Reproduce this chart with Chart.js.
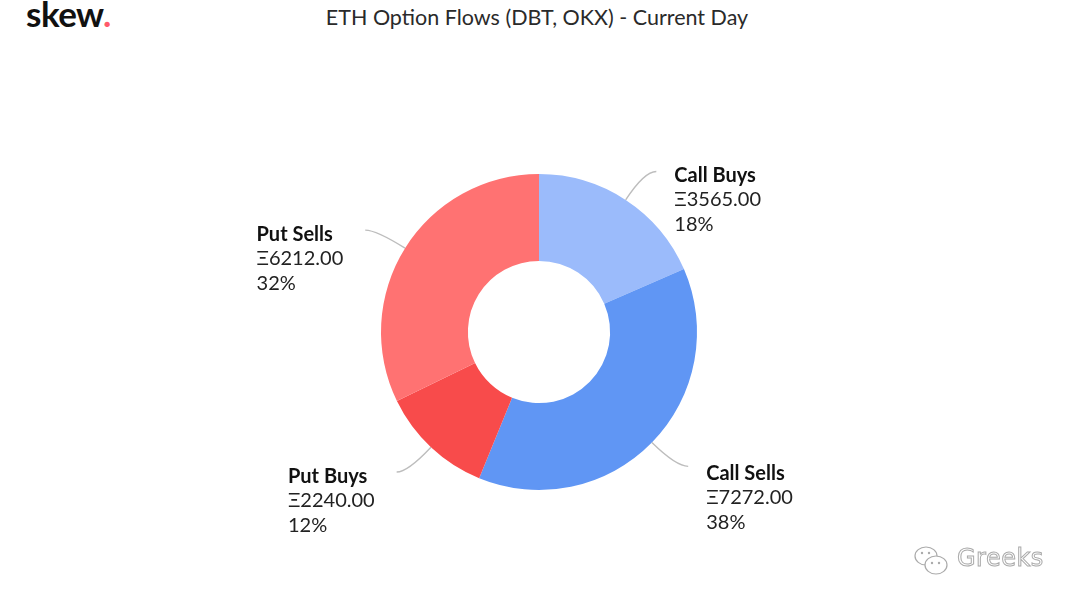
<!DOCTYPE html>
<html>
<head>
<meta charset="utf-8">
<script src="https://cdn.jsdelivr.net/npm/chart.js@4"></script>
<style>
html,body{margin:0;padding:0;background:#fff;}
#wrap{position:relative;width:1080px;height:603px;overflow:hidden;font-family:Lato,"Noto Sans",sans-serif;}
#logo{position:absolute;left:26px;top:-8px;font:bold 35px Lato,sans-serif;color:#111;letter-spacing:-0.5px;}
#logo span{color:#ff5a6a;}
#title{position:absolute;left:0;width:1074px;top:4px;text-align:center;font:21.5px Lato,sans-serif;color:#2a2a2a;}
#wm{position:absolute;left:912px;top:544px;font:24px "DejaVu Sans",sans-serif;color:#fff;-webkit-text-stroke:1px #aaa;letter-spacing:0.5px;}
#wm svg{position:absolute;left:0;top:0;}
#wm b{font-weight:normal;position:absolute;left:45px;top:0;}
canvas{position:absolute;left:0;top:0;}
</style>
</head>
<body>
<div id="wrap">
  <div id="logo">skew<span>.</span></div>
  <div id="title">ETH Option Flows (DBT, OKX) - Current Day</div>
  <canvas id="flows" width="1080" height="603"></canvas>
  <div id="wm"><svg width="38" height="34" viewBox="0 0 38 34"><ellipse cx="14" cy="12" rx="11" ry="9" fill="#fff" stroke="#aaa" stroke-width="1.2"/><ellipse cx="24" cy="21" rx="11" ry="9" fill="#fff" stroke="#aaa" stroke-width="1.2"/><circle cx="10" cy="9" r="1.2" fill="#aaa"/><circle cx="17" cy="9" r="1.2" fill="#aaa"/><circle cx="20" cy="19" r="1.2" fill="#aaa"/><circle cx="27" cy="19" r="1.2" fill="#aaa"/></svg><b>Greeks</b></div>
</div>
<script>
const labels=["Call Buys","Call Sells","Put Buys","Put Sells"];
const flows=[3565,7272,2240,6212];
const colors=["#9bbbfb","#6096f4","#f84b4b","#ff7272"];
const total=flows.reduce((a,b)=>a+b,0);

const leaders={id:"leaders",afterDatasetsDraw(chart){
  const ctx=chart.ctx;
  chart.getDatasetMeta(0).data.forEach((arc,i)=>{
    const {x,y,startAngle,endAngle,outerRadius}=arc.getProps(["x","y","startAngle","endAngle","outerRadius"],true);
    const a=(startAngle+endAngle)/2,c=Math.cos(a),s=Math.sin(a),right=c>=0;
    const x0=x+c*outerRadius,y0=y+s*outerRadius;
    const r1=outerRadius+34,x1=x+c*r1,y1=y+s*r1;
    const ex=x1+(right?12:-11),ey=y1;
    ctx.save();
    ctx.strokeStyle="#bdbdbd";ctx.lineWidth=1.4;
    ctx.beginPath();ctx.moveTo(x0,y0);ctx.quadraticCurveTo(x1,y1,ex,ey);ctx.stroke();
    const lines=[labels[i],"\u039e"+flows[i].toFixed(2),Math.round(flows[i]/total*100)+"%"];
    const fonts=["bold 20px Lato","20px Lato","20px Lato"];
    let w=0;
    lines.forEach((t,k)=>{ctx.font=fonts[k];w=Math.max(w,ctx.measureText(t).width);});
    const lx=right?ex+18:ex-22-w;
    ctx.textBaseline="middle";ctx.textAlign="left";
    lines.forEach((t,k)=>{ctx.font=fonts[k];ctx.fillStyle=k?"#222":"#111";ctx.fillText(t,lx,ey+(right&&s>0?7:4)+k*24.5);});
    ctx.restore();
  });
}};

new Chart("flows",{type:"doughnut",
  data:{labels:labels,datasets:[{data:flows,backgroundColor:colors,borderWidth:0,hoverOffset:0}]},
  options:{responsive:false,animation:false,cutout:"45%",
    layout:{padding:{top:174,bottom:113,left:381,right:383}},
    plugins:{legend:{display:false},tooltip:{enabled:false}}},
  plugins:[leaders]});
</script>
</body>
</html>
